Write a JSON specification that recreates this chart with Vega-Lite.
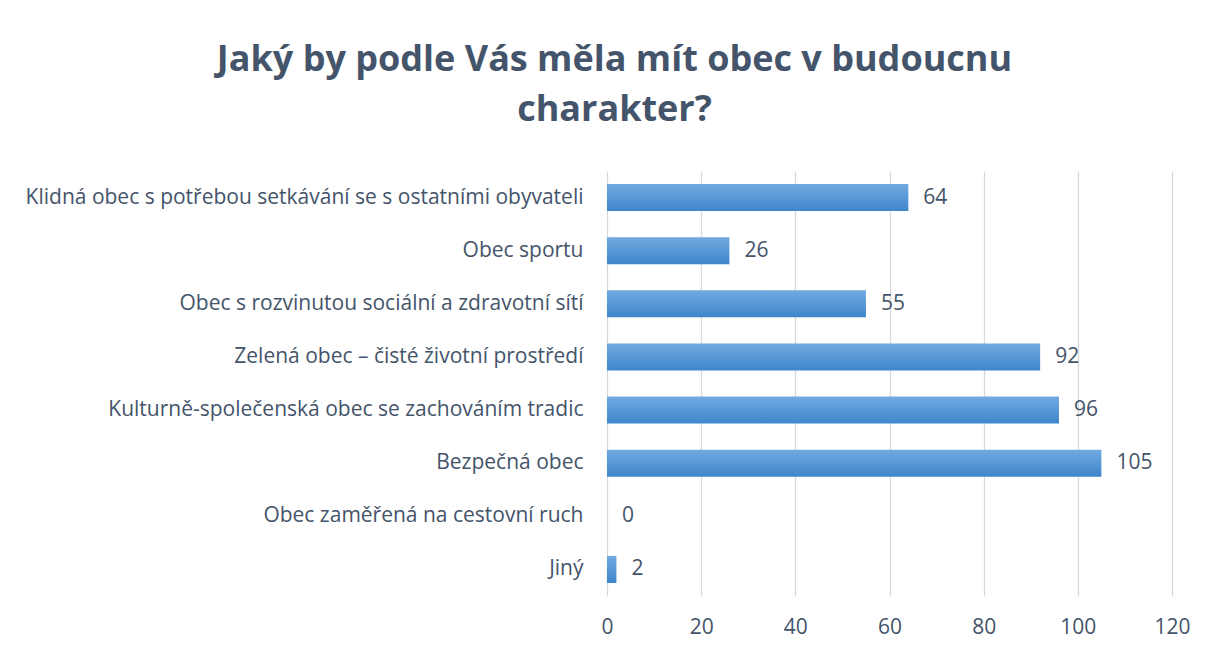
{
  "$schema": "https://vega.github.io/schema/vega-lite/v6.json",
  "width": 565,
  "height": 425,
  "autosize": {"type": "none"},
  "padding": {"left": 607, "top": 171, "right": 37, "bottom": 54},
  "background": "white",
  "title": {
    "text": ["Jaký by podle Vás měla mít obec v budoucnu", "charakter?"],
    "font": "Open Sans",
    "fontSize": 36,
    "fontWeight": "bold",
    "color": "#44546A",
    "anchor": "middle",
    "frame": "group",
    "dx": -275,
    "offset": 42,
    "lineHeight": 50
  },
  "data": {
    "values": [
      {"kategorie": "Klidná obec s potřebou setkávání se s ostatními obyvateli", "pocet": 64},
      {"kategorie": "Obec sportu", "pocet": 26},
      {"kategorie": "Obec s rozvinutou sociální a zdravotní sítí", "pocet": 55},
      {"kategorie": "Zelená obec – čisté životní prostředí", "pocet": 92},
      {"kategorie": "Kulturně-společenská obec se zachováním tradic", "pocet": 96},
      {"kategorie": "Bezpečná obec", "pocet": 105},
      {"kategorie": "Obec zaměřená na cestovní ruch", "pocet": 0},
      {"kategorie": "Jiný", "pocet": 2}
    ]
  },
  "config": {"view": {"stroke": null}},
  "encoding": {
    "y": {
      "field": "kategorie",
      "type": "nominal",
      "sort": null,
      "title": null,
      "scale": {"paddingInner": 0.49, "paddingOuter": 0.245},
      "axis": {
        "domain": false,
        "ticks": false,
        "grid": false,
        "labelFont": "Open Sans",
        "labelFontSize": 21,
        "labelColor": "#44546A",
        "labelPadding": 24,
        "labelLimit": 700
      }
    },
    "x": {
      "field": "pocet",
      "type": "quantitative",
      "title": null,
      "scale": {"domain": [0, 120], "nice": false},
      "axis": {
        "values": [0, 20, 40, 60, 80, 100, 120],
        "domain": false,
        "ticks": false,
        "grid": true,
        "gridColor": "#D9D9D9",
        "gridWidth": 1.3,
        "labelFlush": false,
        "labelFont": "Open Sans",
        "labelFontSize": 21,
        "labelColor": "#44546A",
        "labelPadding": 20
      }
    }
  },
  "layer": [
    {
      "mark": {
        "type": "bar",
        "fill": {
          "gradient": "linear",
          "x1": 0, "y1": 0, "x2": 0, "y2": 1,
          "stops": [
            {"offset": 0, "color": "#72AAE0"},
            {"offset": 1, "color": "#3E86CC"}
          ]
        }
      }
    },
    {
      "mark": {
        "type": "text",
        "align": "left",
        "baseline": "middle",
        "dx": 15,
        "font": "Open Sans",
        "fontSize": 21,
        "color": "#44546A"
      },
      "encoding": {"text": {"field": "pocet", "type": "quantitative"}}
    }
  ]
}
